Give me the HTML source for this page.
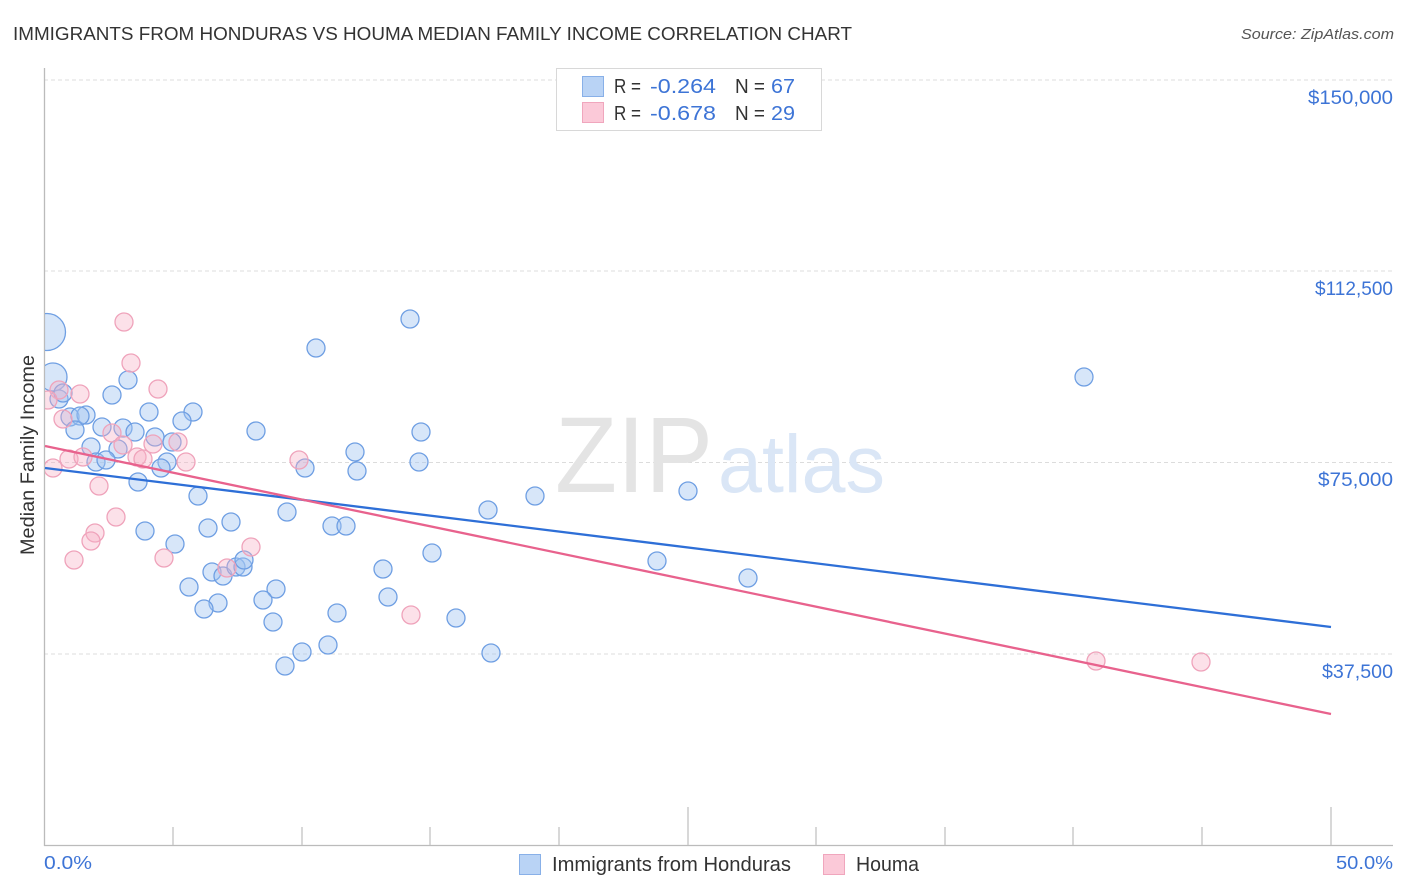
<!DOCTYPE html>
<html><head><meta charset="utf-8"><style>
html,body{margin:0;padding:0;background:#fff;}
svg{display:block;}
text{font-family:"Liberation Sans",Arial,sans-serif;}
</style></head><body>
<svg width="1406" height="892" viewBox="0 0 1406 892" xmlns="http://www.w3.org/2000/svg">
<defs><clipPath id="pc"><rect x="45" y="60" width="1350" height="785"/></clipPath></defs>
<rect width="1406" height="892" fill="#fff"/>
<text x="13" y="40" font-size="18.5" fill="#333" textLength="839" lengthAdjust="spacingAndGlyphs">IMMIGRANTS FROM HONDURAS VS HOUMA MEDIAN FAMILY INCOME CORRELATION CHART</text>
<text x="1241" y="39" font-size="15" fill="#555" font-style="italic" textLength="153" lengthAdjust="spacingAndGlyphs">Source: ZipAtlas.com</text>
<g stroke="#dcdcdc" stroke-width="1" stroke-dasharray="4,3">
<line x1="44" y1="80" x2="1393" y2="80"/>
<line x1="44" y1="271" x2="1393" y2="271"/>
<line x1="44" y1="462.5" x2="1393" y2="462.5"/>
<line x1="44" y1="654" x2="1393" y2="654"/>
</g>
<text x="555" y="492" font-family="Liberation Serif,serif" font-size="108" fill="#e4e4e4" textLength="158" lengthAdjust="spacingAndGlyphs">ZIP</text>
<text x="718" y="492" font-size="82" fill="#dae6f6" textLength="167" lengthAdjust="spacingAndGlyphs">atlas</text>
<line x1="44.5" y1="68" x2="44.5" y2="846" stroke="#bbb" stroke-width="1.3"/>
<line x1="44" y1="845.5" x2="1393" y2="845.5" stroke="#bbb" stroke-width="1.3"/>
<g stroke="#c4c4c4" stroke-width="1.3">
<line x1="173" y1="827" x2="173" y2="845"/>
<line x1="302" y1="827" x2="302" y2="845"/>
<line x1="430" y1="827" x2="430" y2="845"/>
<line x1="559" y1="827" x2="559" y2="845"/>
<line x1="688" y1="807" x2="688" y2="845"/>
<line x1="816" y1="827" x2="816" y2="845"/>
<line x1="945" y1="827" x2="945" y2="845"/>
<line x1="1073" y1="827" x2="1073" y2="845"/>
<line x1="1202" y1="827" x2="1202" y2="845"/>
<line x1="1331" y1="807" x2="1331" y2="845"/>
</g>
<g font-size="19" fill="#3d74d6">
<text x="1308" y="104" textLength="85" lengthAdjust="spacingAndGlyphs">$150,000</text>
<text x="1315" y="295" textLength="78" lengthAdjust="spacingAndGlyphs">$112,500</text>
<text x="1318" y="486" textLength="75" lengthAdjust="spacingAndGlyphs">$75,000</text>
<text x="1322" y="678" textLength="71" lengthAdjust="spacingAndGlyphs">$37,500</text>
</g>
<text x="44" y="869" font-size="18" fill="#3d74d6" textLength="48" lengthAdjust="spacingAndGlyphs">0.0%</text>
<text x="1336" y="869" font-size="18" fill="#3d74d6" textLength="57" lengthAdjust="spacingAndGlyphs">50.0%</text>
<text transform="translate(34,455) rotate(-90)" font-size="19" fill="#333" text-anchor="middle" textLength="200" lengthAdjust="spacingAndGlyphs">Median Family Income</text>
<g clip-path="url(#pc)">
<g fill="rgba(160,195,240,0.42)" stroke="#6f9fe3" stroke-width="1.3">
<circle cx="47" cy="332" r="18.5"/>
<circle cx="53" cy="377" r="14"/>
<circle cx="59" cy="399" r="9"/>
<circle cx="63" cy="393" r="9"/>
<circle cx="112" cy="395" r="9"/>
<circle cx="128" cy="380" r="9"/>
<circle cx="149" cy="412" r="9"/>
<circle cx="193" cy="412" r="9"/>
<circle cx="182" cy="421" r="9"/>
<circle cx="256" cy="431" r="9"/>
<circle cx="70" cy="417" r="9"/>
<circle cx="86" cy="415" r="9"/>
<circle cx="80" cy="416" r="9"/>
<circle cx="75" cy="430" r="9"/>
<circle cx="102" cy="427" r="9"/>
<circle cx="123" cy="428" r="9"/>
<circle cx="135" cy="432" r="9"/>
<circle cx="155" cy="437" r="9"/>
<circle cx="172" cy="442" r="9"/>
<circle cx="91" cy="447" r="9"/>
<circle cx="118" cy="449" r="9"/>
<circle cx="96" cy="462" r="9"/>
<circle cx="106" cy="460" r="9"/>
<circle cx="167" cy="462" r="9"/>
<circle cx="161" cy="468" r="9"/>
<circle cx="138" cy="482" r="9"/>
<circle cx="198" cy="496" r="9"/>
<circle cx="145" cy="531" r="9"/>
<circle cx="208" cy="528" r="9"/>
<circle cx="231" cy="522" r="9"/>
<circle cx="175" cy="544" r="9"/>
<circle cx="212" cy="572" r="9"/>
<circle cx="223" cy="576" r="9"/>
<circle cx="236" cy="567" r="9"/>
<circle cx="243" cy="567" r="9"/>
<circle cx="244" cy="560" r="9"/>
<circle cx="189" cy="587" r="9"/>
<circle cx="218" cy="603" r="9"/>
<circle cx="204" cy="609" r="9"/>
<circle cx="410" cy="319" r="9"/>
<circle cx="316" cy="348" r="9"/>
<circle cx="421" cy="432" r="9"/>
<circle cx="355" cy="452" r="9"/>
<circle cx="305" cy="468" r="9"/>
<circle cx="357" cy="471" r="9"/>
<circle cx="419" cy="462" r="9"/>
<circle cx="287" cy="512" r="9"/>
<circle cx="332" cy="526" r="9"/>
<circle cx="346" cy="526" r="9"/>
<circle cx="488" cy="510" r="9"/>
<circle cx="432" cy="553" r="9"/>
<circle cx="383" cy="569" r="9"/>
<circle cx="276" cy="589" r="9"/>
<circle cx="263" cy="600" r="9"/>
<circle cx="388" cy="597" r="9"/>
<circle cx="337" cy="613" r="9"/>
<circle cx="273" cy="622" r="9"/>
<circle cx="456" cy="618" r="9"/>
<circle cx="328" cy="645" r="9"/>
<circle cx="302" cy="652" r="9"/>
<circle cx="285" cy="666" r="9"/>
<circle cx="491" cy="653" r="9"/>
<circle cx="535" cy="496" r="9"/>
<circle cx="688" cy="491" r="9"/>
<circle cx="657" cy="561" r="9"/>
<circle cx="748" cy="578" r="9"/>
<circle cx="1084" cy="377" r="9"/>
</g>
<g fill="rgba(246,175,198,0.38)" stroke="#efa3bb" stroke-width="1.3">
<circle cx="124" cy="322" r="9"/>
<circle cx="131" cy="363" r="9"/>
<circle cx="158" cy="389" r="9"/>
<circle cx="80" cy="394" r="9"/>
<circle cx="59" cy="390" r="9"/>
<circle cx="48" cy="400" r="9"/>
<circle cx="63" cy="419" r="9"/>
<circle cx="112" cy="433" r="9"/>
<circle cx="123" cy="445" r="9"/>
<circle cx="153" cy="444" r="9"/>
<circle cx="178" cy="442" r="9"/>
<circle cx="69" cy="459" r="9"/>
<circle cx="83" cy="457" r="9"/>
<circle cx="137" cy="457" r="9"/>
<circle cx="143" cy="459" r="9"/>
<circle cx="186" cy="462" r="9"/>
<circle cx="53" cy="468" r="9"/>
<circle cx="99" cy="486" r="9"/>
<circle cx="116" cy="517" r="9"/>
<circle cx="95" cy="533" r="9"/>
<circle cx="91" cy="541" r="9"/>
<circle cx="74" cy="560" r="9"/>
<circle cx="164" cy="558" r="9"/>
<circle cx="251" cy="547" r="9"/>
<circle cx="227" cy="568" r="9"/>
<circle cx="299" cy="460" r="9"/>
<circle cx="411" cy="615" r="9"/>
<circle cx="1096" cy="661" r="9"/>
<circle cx="1201" cy="662" r="9"/>
</g>
</g>
<line x1="45" y1="468" x2="1331" y2="627" stroke="#2e6fd7" stroke-width="2.3"/>
<line x1="45" y1="446" x2="1331" y2="714" stroke="#e8628d" stroke-width="2.3"/>
<rect x="556.5" y="68.5" width="265" height="62" fill="#fff" stroke="#d8d8d8" stroke-width="1"/>
<rect x="582.5" y="76.5" width="21" height="20" fill="#b9d3f5" stroke="#88b0e8" stroke-width="1"/>
<rect x="582.5" y="102.5" width="21" height="20" fill="#fbc9d8" stroke="#f0a6bd" stroke-width="1"/>
<g font-size="20">
<text x="614" y="93" fill="#333" textLength="27" lengthAdjust="spacingAndGlyphs">R =</text>
<text x="650" y="93" fill="#3d74d6" textLength="66" lengthAdjust="spacingAndGlyphs">-0.264</text>
<text x="735" y="93" fill="#333" textLength="30" lengthAdjust="spacingAndGlyphs">N =</text>
<text x="771" y="93" fill="#3d74d6" textLength="24" lengthAdjust="spacingAndGlyphs">67</text>
<text x="614" y="120" fill="#333" textLength="27" lengthAdjust="spacingAndGlyphs">R =</text>
<text x="650" y="120" fill="#3d74d6" textLength="66" lengthAdjust="spacingAndGlyphs">-0.678</text>
<text x="735" y="120" fill="#333" textLength="30" lengthAdjust="spacingAndGlyphs">N =</text>
<text x="771" y="120" fill="#3d74d6" textLength="24" lengthAdjust="spacingAndGlyphs">29</text>
</g>
<rect x="519.5" y="854.5" width="21" height="20" fill="#b9d3f5" stroke="#88b0e8" stroke-width="1"/>
<text x="552" y="871" font-size="20" fill="#333" textLength="239" lengthAdjust="spacingAndGlyphs">Immigrants from Honduras</text>
<rect x="823.5" y="854.5" width="21" height="20" fill="#fbc9d8" stroke="#f0a6bd" stroke-width="1"/>
<text x="856" y="871" font-size="20" fill="#333" textLength="63" lengthAdjust="spacingAndGlyphs">Houma</text>
</svg>
</body></html>
